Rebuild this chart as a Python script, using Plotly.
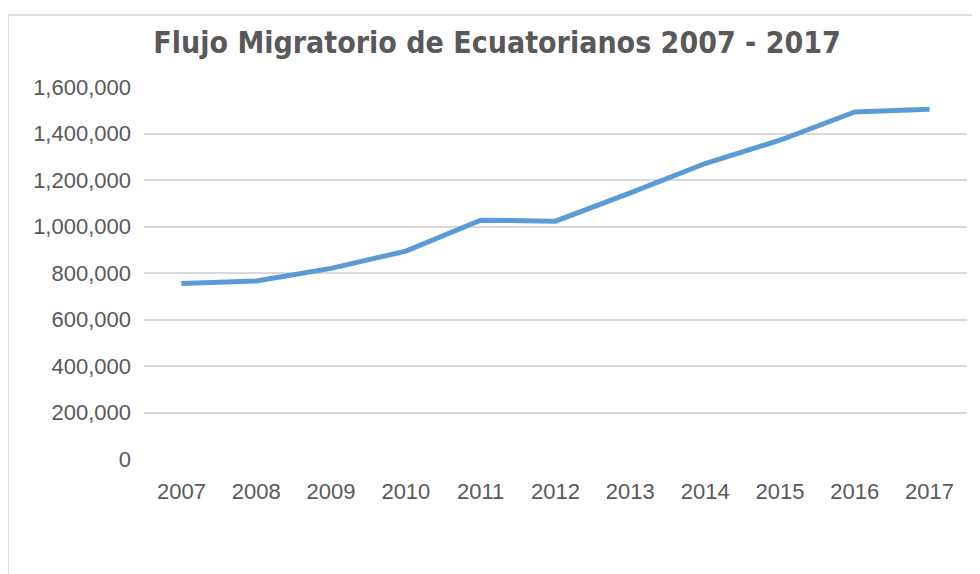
import plotly.graph_objects as go

# ==========================================================
# Data
# ==========================================================

years = ["2007", "2008", "2009", "2010", "2011", "2012",
         "2013", "2014", "2015", "2016", "2017"]

migrantes = [755000, 766000, 820000, 894000, 1027000, 1023000,
             1145000, 1271000, 1371000, 1493000, 1504000]

TITLE = "Flujo Migratorio de Ecuatorianos 2007 - 2017"

LINE = "#5b9bd5"
TEXT = "#595959"
GRID = "#d9d9d9"

TICK_FONT = dict(family="Liberation Sans, Arial, sans-serif", size=22, color=TEXT)


# ==========================================================
# Figure
# ==========================================================

fig = go.Figure(

    go.Scatter(

        x=years,

        y=migrantes,

        mode="lines",

        line=dict(color=LINE, width=5),

        hoverinfo="x+y",

    )

)

fig.update_layout(

    width=980,

    height=574,

    paper_bgcolor="white",

    plot_bgcolor="white",

    showlegend=False,

    # page body has an 8px offset, so the plot box is pulled up/left
    margin=dict(l=136, r=21, t=79, b=123),

    title=dict(
        text=TITLE,
        x=0.429,
        xref="paper",
        xanchor="center",
        y=1 - 34 / 574,
        yref="container",
        yanchor="middle",
        font=dict(
            family="Liberation Sans Narrow, DejaVu Sans Condensed, sans-serif",
            size=30,
            color=TEXT,
            weight="bold",
        ),
    ),

    # chart area border (top and left edges visible)
    shapes=[
        dict(
            type="path",
            xref="paper",
            yref="paper",
            path="M -0.1653,-0.5 L -0.1653,1.1935 L 1.1,1.1935",
            line=dict(color=GRID, width=1.5),
        )
    ],

)

fig.update_xaxes(

    type="category",

    range=[-0.5, 10.5],

    showgrid=False,

    showline=False,

    zeroline=False,

    ticks="",

    ticklabelstandoff=17,

    tickfont=TICK_FONT,

)

fig.update_yaxes(

    range=[0, 1600000],

    dtick=200000,

    tickformat=",d",

    showgrid=True,

    gridcolor=GRID,

    gridwidth=1.5,

    zeroline=False,

    showline=False,

    ticks="",

    ticklabelstandoff=12,

    tickfont=TICK_FONT,

)

fig.write_html("out.html")
